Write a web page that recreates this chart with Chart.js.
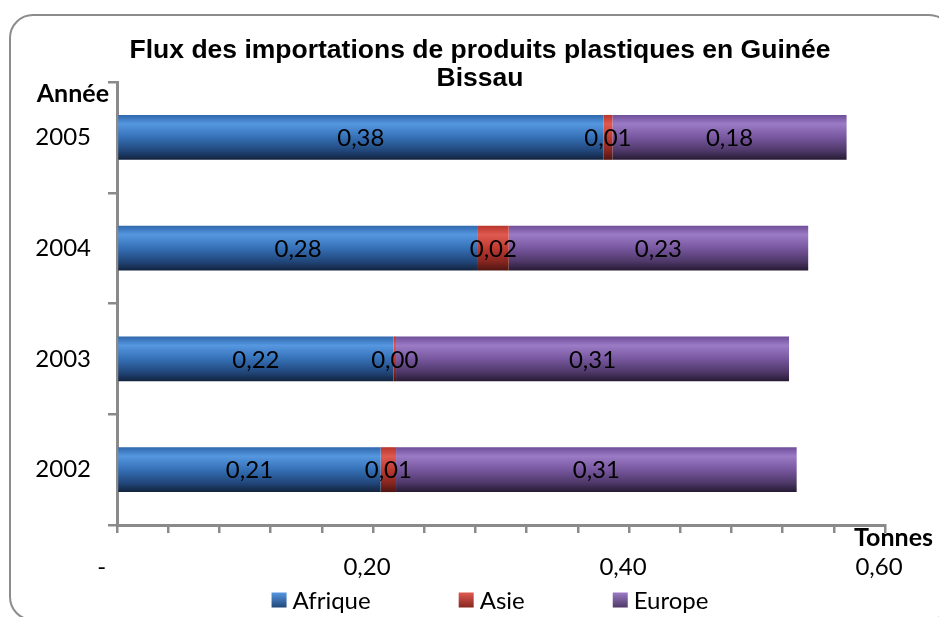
<!DOCTYPE html>
<html lang="fr">
<head>
<meta charset="utf-8">
<title>Flux des importations de produits plastiques en Guinée Bissau</title>
<script src="https://cdn.jsdelivr.net/npm/chart.js@4/dist/chart.umd.min.js"></script>
<style>
  html, body { margin: 0; padding: 0; background: #ffffff; }
  #wrap { position: relative; width: 939px; height: 617px; overflow: hidden; }
  #frame {
    position: absolute; left: 9px; top: 14px; width: 940px; height: 603px;
    border: 2px solid #8c8c8c; border-radius: 24px; pointer-events: none;
  }
  canvas { position: absolute; left: 0; top: 0; }
</style>
</head>
<body>
<div id="wrap">
  <canvas id="chart" width="939" height="617"></canvas>
  <div id="frame"></div>
</div>
<script>
// Years (top to bottom) and import tonnage per origin
const categories = ['2005', '2004', '2003', '2002'];
const afrique = [0.380, 0.282, 0.216, 0.206];
const asie    = [0.007, 0.024, 0.002, 0.012];
const europe  = [0.183, 0.234, 0.307, 0.313];

// Labelled positions on the tonnage axis
const xTickValues = [0, 0.2, 0.4, 0.6];
const xTickLabels = ['-   ', '0,20', '0,40', '0,60'];

const titleLines = ['Flux des importations de produits plastiques en Guinée', 'Bissau'];
const yAxisTitle = 'Année';
const xAxisTitle = 'Tonnes';

const BAR_PCT = 0.9;
const CAT_PCT = 0.45;
const TEXT_FONT = 'Lato, "Open Sans", sans-serif';
const TEXT_SIZE = 24;

// Glossy vertical shading for each series
const shades = {
  blue:   [[0, '#2f67ac'], [0.2, '#5597e0'], [0.5, '#3570b6'], [0.8, '#21467a'], [1, '#12233d']],
  red:    [[0, '#b8352c'], [0.2, '#df5a50'], [0.5, '#bf3a31'], [0.8, '#862620'], [1, '#4f1512']],
  purple: [[0, '#6e4e98'], [0.2, '#9c7bc6'], [0.5, '#77579f'], [0.8, '#4e3868'], [1, '#261a33']]
};

function barFill(stops) {
  return function (ctx) {
    const chart = ctx.chart;
    const y = chart.scales.y;
    if (!chart.chartArea || !y || ctx.type !== 'data') return stops[2][1];
    const c = y.getPixelForValue(ctx.dataIndex);
    const h = (y.height / categories.length) * BAR_PCT * CAT_PCT;
    const g = chart.ctx.createLinearGradient(0, c - h / 2, 0, c + h / 2);
    stops.forEach(([p, col]) => g.addColorStop(p, col));
    return g;
  };
}

function fmt(v) {
  return v.toFixed(2).replace('.', ',');
}

// Values written in the middle of each bar segment, plus titles and legend
const annotations = {
  id: 'annotations',
  afterDatasetsDraw(chart) {
    const ctx = chart.ctx;
    ctx.save();
    ctx.fillStyle = '#000000';
    ctx.font = TEXT_SIZE + 'px ' + TEXT_FONT;
    ctx.textAlign = 'center';
    ctx.textBaseline = 'middle';
    chart.data.datasets.forEach((ds, di) => {
      const meta = chart.getDatasetMeta(di);
      meta.data.forEach((bar, i) => {
        const left = Math.min(bar.x, bar.base);
        const right = Math.max(bar.x, bar.base);
        ctx.fillText(fmt(ds.data[i]), (left + right) / 2, bar.y + 1);
      });
    });
    ctx.restore();
  },
  afterDraw(chart) {
    const ctx = chart.ctx;
    const area = chart.chartArea;
    ctx.save();
    ctx.fillStyle = '#000000';
    ctx.textBaseline = 'middle';

    // Chart title
    ctx.font = 'bold 26.5px "Liberation Sans", Arial, sans-serif';
    ctx.textAlign = 'center';
    ctx.fillText(titleLines[0], 480, 51);
    ctx.fillText(titleLines[1], 480, 79);

    // Axis titles
    ctx.font = 'bold 25px ' + TEXT_FONT;
    ctx.textAlign = 'right';
    ctx.fillText(yAxisTitle, area.left - 8, area.top + 12);
    ctx.fillText(xAxisTitle, 933, area.bottom + 13);

    // Legend
    ctx.font = TEXT_SIZE + 'px ' + TEXT_FONT;
    ctx.textAlign = 'left';
    const box = 15, gapText = 6, gapItem = 88;
    const items = chart.data.datasets.map(ds => ({ label: ds.label, stops: ds.legendStops }));
    let total = 0;
    items.forEach((it, i) => {
      it.w = ctx.measureText(it.label).width;
      total += box + gapText + it.w + (i < items.length - 1 ? gapItem : 0);
    });
    let x = 490 - total / 2;
    const ly = 600;
    items.forEach(it => {
      const g = ctx.createLinearGradient(0, ly - box / 2, 0, ly + box / 2);
      g.addColorStop(0, it.stops[1][1]);
      g.addColorStop(1, it.stops[3][1]);
      ctx.fillStyle = g;
      ctx.fillRect(x, ly - box / 2, box, box);
      ctx.fillStyle = '#000000';
      ctx.fillText(it.label, x + box + gapText, ly + 1);
      x += box + gapText + it.w + gapItem;
    });
    ctx.restore();
  }
};

const axisGrey = '#8a8a8a';

new Chart(document.getElementById('chart'), {
  type: 'bar',
  data: {
    labels: categories,
    datasets: [
      { label: 'Afrique', data: afrique, backgroundColor: barFill(shades.blue),   legendStops: shades.blue },
      { label: 'Asie',    data: asie,    backgroundColor: barFill(shades.red),    legendStops: shades.red },
      { label: 'Europe',  data: europe,  backgroundColor: barFill(shades.purple), legendStops: shades.purple }
    ]
  },
  options: {
    indexAxis: 'y',
    responsive: false,
    animation: false,
    devicePixelRatio: 1,
    barPercentage: BAR_PCT,
    categoryPercentage: CAT_PCT,
    layout: { padding: { left: 0, top: 82, right: 54, bottom: 0 } },
    plugins: {
      legend: { display: false },
      title: { display: false },
      tooltip: { enabled: false }
    },
    scales: {
      x: {
        stacked: true,
        min: 0,
        max: 0.6,
        afterFit(scale) { scale.height = 92; },
        afterBuildTicks(scale) {
          const t = [];
          for (let i = 0; i <= 15; i++) t.push({ value: +(i * 0.04).toFixed(2) });
          scale.ticks = t;
        },
        ticks: {
          autoSkip: false,
          maxRotation: 0,
          padding: 20,
          labelOffset: -6,
          color: '#000000',
          font: { family: TEXT_FONT, size: TEXT_SIZE },
          callback(value) {
            const k = xTickValues.findIndex(v => Math.abs(v - value) < 1e-6);
            return k >= 0 ? xTickLabels[k] : '';
          }
        },
        grid: { drawOnChartArea: false, drawTicks: true, tickLength: 8, color: axisGrey, lineWidth: 2.5 },
        border: { display: true, color: axisGrey, width: 3 }
      },
      y: {
        stacked: true,
        afterFit(scale) { scale.width = 117; },
        ticks: {
          padding: 17,
          color: '#000000',
          font: { family: TEXT_FONT, size: TEXT_SIZE }
        },
        grid: { drawOnChartArea: false, drawTicks: true, tickLength: 9, color: axisGrey, lineWidth: 2.5, offset: true },
        border: { display: true, color: axisGrey, width: 3 }
      }
    }
  },
  plugins: [annotations]
});
</script>
</body>
</html>
